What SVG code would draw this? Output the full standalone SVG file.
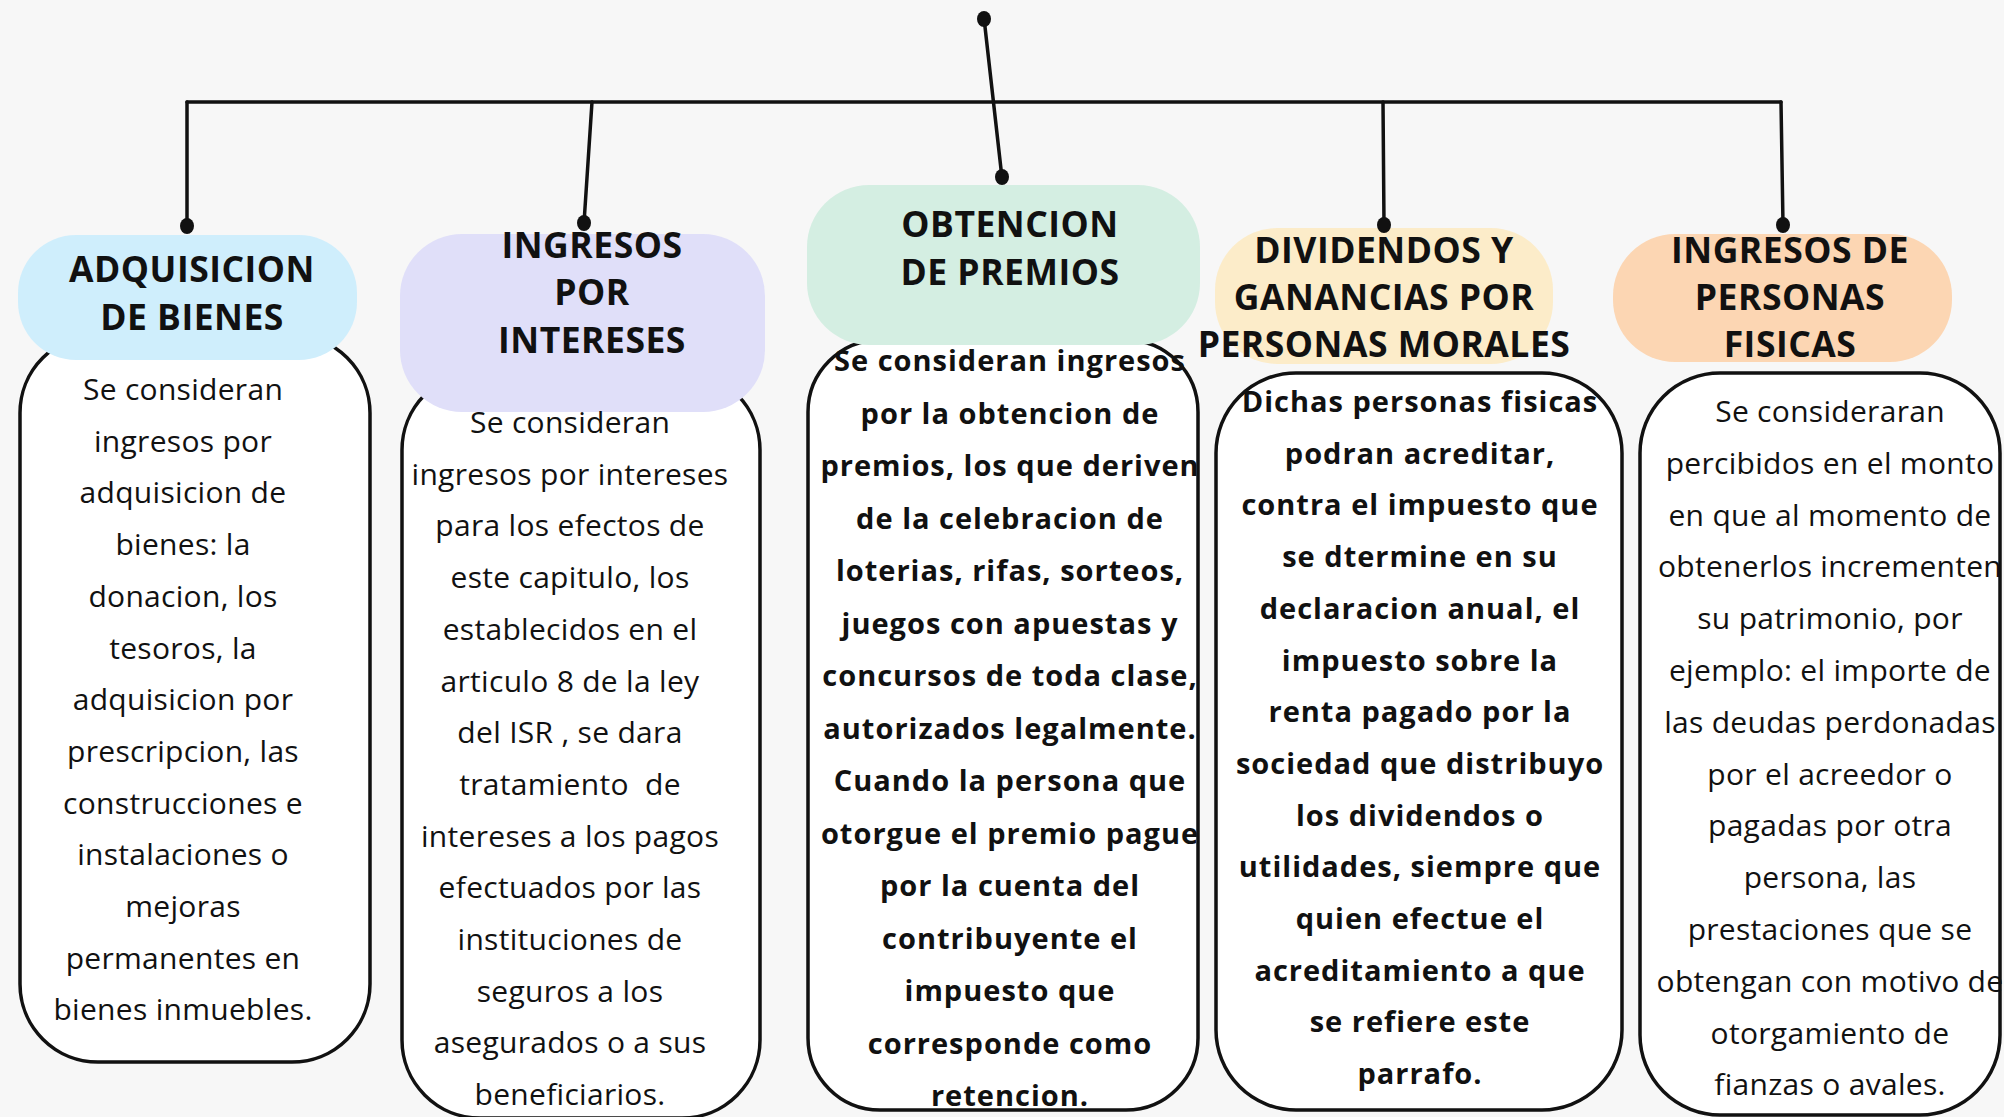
<svg xmlns="http://www.w3.org/2000/svg" width="2004" height="1117" viewBox="0 0 2004 1117">
<style>
.bg{fill:#f7f7f7}
.body{fill:#ffffff;stroke:#111111;stroke-width:3.5}
.hd{font-family:"Open Sans","Liberation Sans",sans-serif;font-weight:700;font-size:35.5px;letter-spacing:0.5px;fill:#111111;text-anchor:middle}
.tx{font-family:"Open Sans","Liberation Sans",sans-serif;font-weight:400;font-size:30px;letter-spacing:0.3px;fill:#111111;text-anchor:middle}
.tb{font-family:"Open Sans","Liberation Sans",sans-serif;font-weight:700;font-size:29px;letter-spacing:1px;fill:#111111;text-anchor:middle}
.ln{stroke:#111111;stroke-width:3.5;fill:none;stroke-linecap:round}
.dot{fill:#111111}
</style>
<rect class="bg" x="0" y="0" width="2004" height="1117"/>

<g id="node-adquisicion">
<rect class="body" x="20" y="335" width="350" height="727" rx="78"/>
<rect x="18" y="235" width="339" height="125" rx="58" fill="#cfeefc"/>
<text class="hd" x="192" y="282">ADQUISICION</text>
<text class="hd" x="192" y="330">DE BIENES</text>
<text class="tx" x="183" y="400">Se consideran</text>
<text class="tx" x="183" y="451.7">ingresos por</text>
<text class="tx" x="183" y="503.4">adquisicion de</text>
<text class="tx" x="183" y="555.1">bienes: la</text>
<text class="tx" x="183" y="606.8">donacion, los</text>
<text class="tx" x="183" y="658.5">tesoros, la</text>
<text class="tx" x="183" y="710.2">adquisicion por</text>
<text class="tx" x="183" y="761.9">prescripcion, las</text>
<text class="tx" x="183" y="813.6">construcciones e</text>
<text class="tx" x="183" y="865.3">instalaciones o</text>
<text class="tx" x="183" y="917">mejoras</text>
<text class="tx" x="183" y="968.7">permanentes en</text>
<text class="tx" x="183" y="1020.4">bienes inmuebles.</text>
</g>

<g id="node-intereses">
<rect class="body" x="402" y="372" width="358" height="746" rx="78"/>
<rect x="400" y="234" width="365" height="178" rx="62" fill="#e0dff9"/>
<text class="hd" x="592" y="258">INGRESOS</text>
<text class="hd" x="592" y="305">POR</text>
<text class="hd" x="592" y="353">INTERESES</text>
<text class="tx" x="570" y="433">Se consideran</text>
<text class="tx" x="570" y="484.7">ingresos por intereses</text>
<text class="tx" x="570" y="536.4">para los efectos de</text>
<text class="tx" x="570" y="588.1">este capitulo, los</text>
<text class="tx" x="570" y="639.8">establecidos en el</text>
<text class="tx" x="570" y="691.5">articulo 8 de la ley</text>
<text class="tx" x="570" y="743.2">del ISR , se dara</text>
<text class="tx" x="570" y="794.9" xml:space="preserve">tratamiento  de</text>
<text class="tx" x="570" y="846.6">intereses a los pagos</text>
<text class="tx" x="570" y="898.3">efectuados por las</text>
<text class="tx" x="570" y="950">instituciones de</text>
<text class="tx" x="570" y="1001.7">seguros a los</text>
<text class="tx" x="570" y="1053.4">asegurados o a sus</text>
<text class="tx" x="570" y="1105.1">beneficiarios.</text>
</g>

<g id="node-premios">
<rect class="body" x="808" y="340" width="390" height="770" rx="72"/>
<rect x="807" y="185" width="393" height="160" rx="62" fill="#d4eee2"/>
<text class="hd" x="1010" y="237">OBTENCION</text>
<text class="hd" x="1010" y="285">DE PREMIOS</text>
<text class="tb" x="1010" y="371">Se consideran ingresos</text>
<text class="tb" x="1010" y="423.5">por la obtencion de</text>
<text class="tb" x="1010" y="476">premios, los que deriven</text>
<text class="tb" x="1010" y="528.5">de la celebracion de</text>
<text class="tb" x="1010" y="581">loterias, rifas, sorteos,</text>
<text class="tb" x="1010" y="633.5">juegos con apuestas y</text>
<text class="tb" x="1010" y="686">concursos de toda clase,</text>
<text class="tb" x="1010" y="738.5">autorizados legalmente.</text>
<text class="tb" x="1010" y="791">Cuando la persona que</text>
<text class="tb" x="1010" y="843.5">otorgue el premio pague</text>
<text class="tb" x="1010" y="896">por la cuenta del</text>
<text class="tb" x="1010" y="948.5">contribuyente el</text>
<text class="tb" x="1010" y="1001">impuesto que</text>
<text class="tb" x="1010" y="1053.5">corresponde como</text>
<text class="tb" x="1010" y="1106">retencion.</text>
</g>

<g id="node-dividendos">
<rect class="body" x="1216" y="373" width="406" height="737" rx="80"/>
<rect x="1215" y="228" width="338" height="136" rx="62" fill="#fcecc9"/>
<text class="hd" x="1384" y="263">DIVIDENDOS Y</text>
<text class="hd" x="1384" y="310">GANANCIAS POR</text>
<text class="hd" x="1384" y="357">PERSONAS MORALES</text>
<text class="tb" x="1420" y="412">Dichas personas fisicas</text>
<text class="tb" x="1420" y="463.7">podran acreditar,</text>
<text class="tb" x="1420" y="515.4">contra el impuesto que</text>
<text class="tb" x="1420" y="567.1">se dtermine en su</text>
<text class="tb" x="1420" y="618.8">declaracion anual, el</text>
<text class="tb" x="1420" y="670.5">impuesto sobre la</text>
<text class="tb" x="1420" y="722.2">renta pagado por la</text>
<text class="tb" x="1420" y="773.9">sociedad que distribuyo</text>
<text class="tb" x="1420" y="825.6">los dividendos o</text>
<text class="tb" x="1420" y="877.3">utilidades, siempre que</text>
<text class="tb" x="1420" y="929">quien efectue el</text>
<text class="tb" x="1420" y="980.7">acreditamiento a que</text>
<text class="tb" x="1420" y="1032.4">se refiere este</text>
<text class="tb" x="1420" y="1084.1">parrafo.</text>
</g>

<g id="node-fisicas">
<rect class="body" x="1640" y="373" width="360" height="742" rx="80"/>
<rect x="1613" y="234" width="339" height="128" rx="62" fill="#fcd6b3"/>
<text class="hd" x="1790" y="263">INGRESOS DE</text>
<text class="hd" x="1790" y="310">PERSONAS</text>
<text class="hd" x="1790" y="357">FISICAS</text>
<text class="tx" x="1830" y="422">Se consideraran</text>
<text class="tx" x="1830" y="473.8">percibidos en el monto</text>
<text class="tx" x="1830" y="525.6">en que al momento de</text>
<text class="tx" x="1830" y="577.4">obtenerlos incrementen</text>
<text class="tx" x="1830" y="629.2">su patrimonio, por</text>
<text class="tx" x="1830" y="681">ejemplo: el importe de</text>
<text class="tx" x="1830" y="732.8">las deudas perdonadas</text>
<text class="tx" x="1830" y="784.6">por el acreedor o</text>
<text class="tx" x="1830" y="836.4">pagadas por otra</text>
<text class="tx" x="1830" y="888.2">persona, las</text>
<text class="tx" x="1830" y="940">prestaciones que se</text>
<text class="tx" x="1830" y="991.8">obtengan con motivo de</text>
<text class="tx" x="1830" y="1043.6">otorgamiento de</text>
<text class="tx" x="1830" y="1095.4">fianzas o avales.</text>
</g>

<g id="connectors">
<line class="ln" x1="187" y1="102" x2="1781" y2="102" stroke-width="4.5"/>
<line class="ln" x1="984" y1="18" x2="1002" y2="178"/>
<line class="ln" x1="187" y1="102" x2="187" y2="226"/>
<line class="ln" x1="592" y1="102" x2="584" y2="223"/>
<line class="ln" x1="1383" y1="102" x2="1384" y2="225"/>
<line class="ln" x1="1781" y1="102" x2="1783" y2="225"/>
<ellipse class="dot" cx="984" cy="19" rx="7" ry="8"/>
<ellipse class="dot" cx="1002" cy="177" rx="7" ry="8"/>
<ellipse class="dot" cx="187" cy="226" rx="7" ry="8"/>
<ellipse class="dot" cx="584" cy="223" rx="7" ry="8"/>
<ellipse class="dot" cx="1384" cy="225" rx="7" ry="8"/>
<ellipse class="dot" cx="1783" cy="225" rx="7" ry="8"/>
</g>
</svg>
